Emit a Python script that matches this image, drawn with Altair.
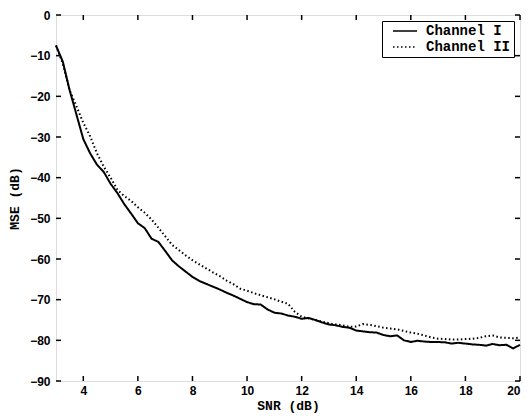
import altair as alt
import pandas as pd

snr = [3.00, 3.25, 3.50, 3.75, 4.00, 4.25, 4.50, 4.75, 5.00, 5.25, 5.50, 5.75,
       6.00, 6.25, 6.50, 6.75, 7.00, 7.25, 7.50, 7.75, 8.00, 8.25, 8.50, 8.75,
       9.00, 9.25, 9.50, 9.75, 10.00, 10.25, 10.50, 10.75, 11.00, 11.25, 11.50, 11.75,
       12.00, 12.25, 12.50, 12.75, 13.00, 13.25, 13.50, 13.75, 14.00, 14.25, 14.50, 14.75,
       15.00, 15.25, 15.50, 15.75, 16.00, 16.25, 16.50, 16.75, 17.00, 17.25, 17.50, 17.75,
       18.00, 18.25, 18.50, 18.75, 19.00, 19.25, 19.50, 19.75, 20.00]

channel_1 = [-7.5, -11.5, -18.5, -24.5, -30.5, -34.0, -36.8, -38.6, -41.5, -43.8, -46.5, -48.8,
             -51.2, -52.4, -55.0, -55.8, -58.0, -60.3, -61.8, -63.1, -64.4, -65.4, -66.1, -66.8,
             -67.5, -68.3, -69.0, -69.8, -70.6, -71.1, -71.2, -72.4, -73.2, -73.4, -73.9, -74.2,
             -74.7, -74.5, -75.0, -75.6, -76.1, -76.3, -76.7, -76.9, -77.6, -77.8, -78.0, -78.1,
             -78.7, -79.0, -78.8, -80.0, -80.4, -80.1, -80.3, -80.4, -80.4, -80.5, -80.8, -80.6,
             -80.8, -81.0, -81.1, -81.3, -80.9, -81.2, -81.1, -82.0, -81.1]

channel_2 = [-7.5, -12.0, -18.5, -22.5, -26.5, -29.8, -34.0, -37.3, -40.0, -43.0, -44.5, -45.7,
             -47.3, -48.6, -50.3, -52.3, -54.4, -56.5, -57.8, -59.1, -60.3, -61.3, -62.3, -63.3,
             -64.2, -65.3, -66.2, -67.3, -67.8, -68.4, -68.9, -69.4, -69.9, -70.5, -71.0, -73.0,
             -74.2, -74.6, -75.0, -75.4, -75.8, -76.1, -76.3, -76.7, -76.6, -76.0, -76.2, -76.5,
             -76.9, -77.1, -77.3, -77.7, -78.1, -78.4, -78.8, -79.3, -79.6, -79.7, -79.8, -79.8,
             -79.7, -79.6, -79.4, -79.0, -78.8, -79.3, -79.4, -79.5, -79.3]

series_names = ["Channel I", "Channel II"]
x_ticks = [4, 6, 8, 10, 12, 14, 16, 18, 20]
y_ticks = [0, -10, -20, -30, -40, -50, -60, -70, -80, -90]

W, H = 464, 366

rows = []
for name, vals in zip(series_names, [channel_1, channel_2]):
    for s, v in zip(snr, vals):
        rows.append({"snr": s, "mse": v, "series": name})
df = pd.DataFrame(rows)
xt = pd.DataFrame({"t": x_ticks})
yt = pd.DataFrame({"t": y_ticks})

xscale = alt.Scale(domain=[3, 20], nice=False, zero=False)
yscale = alt.Scale(domain=[-90, 0], nice=False, zero=False)

label_font = "Liberation Sans"
mono = "Liberation Mono"

lines = alt.Chart(df).mark_line(color="black", strokeWidth=2).encode(
    x=alt.X("snr:Q", scale=xscale,
            axis=alt.Axis(values=x_ticks, title="SNR (dB)", ticks=False, domain=False,
                          grid=False, labelPadding=4, titleBaseline="alphabetic", titleY=28,
                          labelFont=label_font, labelFontWeight="bold", labelFontSize=12,
                          titleFont=mono, titleFontWeight="bold", titleFontSize=13,
                          labelColor="black", titleColor="black")),
    y=alt.Y("mse:Q", scale=yscale,
            axis=alt.Axis(values=y_ticks, title="MSE (dB)", ticks=False, domain=False,
                          grid=False, labelPadding=6, titlePadding=8,
                          labelFont=label_font, labelFontWeight="bold", labelFontSize=12,
                          titleFont=mono, titleFontWeight="bold", titleFontSize=13,
                          labelColor="black", titleColor="black")),
    strokeDash=alt.StrokeDash("series:N",
                              scale=alt.Scale(domain=series_names, range=[[1, 0], [1.5, 2.5]]),
                              legend=alt.Legend(title=None, orient="top-right", offset=6,
                                                strokeColor="black", fillColor="white",
                                                padding=3, labelFont=mono, labelFontWeight="bold",
                                                labelFontSize=14, labelColor="black",
                                                symbolType="M-2,0H2", symbolStrokeColor="black",
                                                symbolStrokeWidth=1.5, symbolSize=144,
                                                symbolOffset=13, labelOffset=14, rowPadding=2)),
)

tick_len = 5
bottom_ticks = alt.Chart(xt).mark_rule(color="black", strokeWidth=1.5).encode(
    x=alt.X("t:Q", scale=xscale), y=alt.value(H), y2=alt.value(H - tick_len))
top_ticks = alt.Chart(xt).mark_rule(color="black", strokeWidth=1.5).encode(
    x=alt.X("t:Q", scale=xscale), y=alt.value(0), y2=alt.value(tick_len))
left_ticks = alt.Chart(yt).mark_rule(color="black", strokeWidth=1.5).encode(
    y=alt.Y("t:Q", scale=yscale), x=alt.value(0), x2=alt.value(tick_len))
right_ticks = alt.Chart(yt).mark_rule(color="black", strokeWidth=1.5).encode(
    y=alt.Y("t:Q", scale=yscale), x=alt.value(W), x2=alt.value(W - tick_len))

chart = alt.layer(lines, bottom_ticks, top_ticks, left_ticks, right_ticks).properties(
    width=W, height=H,
    autosize=alt.AutoSizeParams(type="none"),
    padding={"left": 48, "top": 7, "right": 2, "bottom": 33},
).configure_view(stroke="black", strokeWidth=2).configure(background="white")

chart.save("out.html", embed_options={"renderer": "svg", "actions": False})
